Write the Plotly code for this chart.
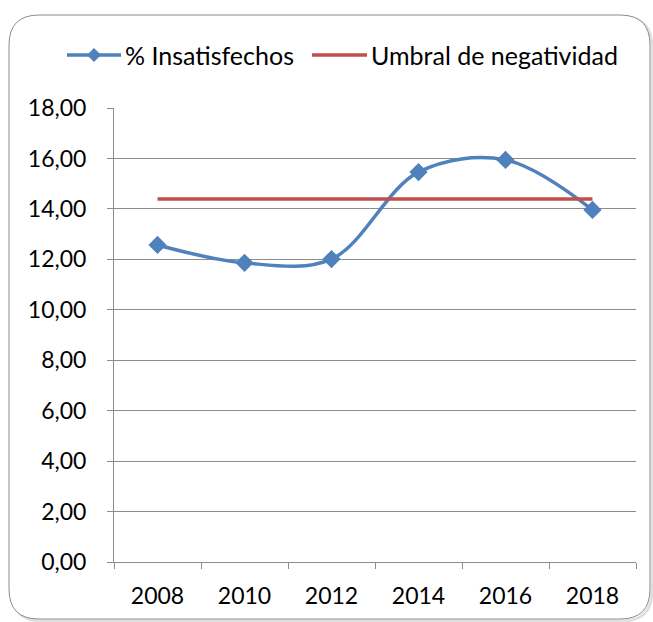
import plotly.graph_objects as go

years = ["2008", "2010", "2012", "2014", "2016", "2018"]
insatisfechos = [12.57, 11.86, 12.01, 15.46, 15.94, 13.96]
umbral = [14.39, 14.39, 14.39, 14.39, 14.39, 14.39]
series_names = ["% Insatisfechos", "Umbral de negatividad"]

W, H = 653, 622
ML, MR, MT, MB = 114, 17, 108, 60
PW, PH = W - ML - MR, H - MT - MB


def px(x, y):
    # pixel -> paper coords
    return (x - ML) / PW, (H - MB - y) / PH


def rounded_rect(x0, y0, x1, y1, r):
    pts = []
    a = px(x0 + r, y0); pts.append(f"M {a[0]:.4f},{a[1]:.4f}")
    a = px(x1 - r, y0); pts.append(f"L {a[0]:.4f},{a[1]:.4f}")
    c = px(x1, y0); e = px(x1, y0 + r); pts.append(f"Q {c[0]:.4f},{c[1]:.4f} {e[0]:.4f},{e[1]:.4f}")
    a = px(x1, y1 - r); pts.append(f"L {a[0]:.4f},{a[1]:.4f}")
    c = px(x1, y1); e = px(x1 - r, y1); pts.append(f"Q {c[0]:.4f},{c[1]:.4f} {e[0]:.4f},{e[1]:.4f}")
    a = px(x0 + r, y1); pts.append(f"L {a[0]:.4f},{a[1]:.4f}")
    c = px(x0, y1); e = px(x0, y1 - r); pts.append(f"Q {c[0]:.4f},{c[1]:.4f} {e[0]:.4f},{e[1]:.4f}")
    a = px(x0, y0 + r); pts.append(f"L {a[0]:.4f},{a[1]:.4f}")
    c = px(x0, y0); e = px(x0 + r, y0); pts.append(f"Q {c[0]:.4f},{c[1]:.4f} {e[0]:.4f},{e[1]:.4f}")
    return " ".join(pts) + " Z"


def diamond(cx, cy, r):
    p = [px(cx, cy - r), px(cx + r, cy), px(cx, cy + r), px(cx - r, cy)]
    return "M " + " L ".join(f"{a:.4f},{b:.4f}" for a, b in p) + " Z"


FONT = "Lato"
FS = 23
BLUE = "#4F81BD"
RED = "#C0504D"
GRID = "#8C8C8C"

fig = go.Figure()
fig.add_trace(go.Scatter(
    x=years, y=insatisfechos, mode="lines+markers", name=series_names[0],
    line=dict(color=BLUE, width=3.5, shape="spline", smoothing=1),
    marker=dict(symbol="diamond", size=14, color=BLUE),
))
fig.add_trace(go.Scatter(
    x=years, y=umbral, mode="lines", name=series_names[1],
    line=dict(color=RED, width=3.5),
))

# shadow + rounded chart border
fig.add_shape(type="path", xref="paper", yref="paper", layer="below",
              path=rounded_rect(12, 17, 652, 621, 30),
              line=dict(color="rgba(0,0,0,0.12)", width=3), fillcolor="rgba(0,0,0,0)")
fig.add_shape(type="path", xref="paper", yref="paper", layer="below",
              path=rounded_rect(9, 15, 650, 619, 30),
              line=dict(color="#8C8C8C", width=1), fillcolor="white")

# Excel-style legend drawn by hand (longer sample lines than plotly's)
LEG_Y = 55
for (x0, x1, tx), color, name, mark in [((67, 121, 123), BLUE, series_names[0], True),
                                         ((312, 367, 369), RED, series_names[1], False)]:
    a, b = px(x0, LEG_Y), px(x1, LEG_Y)
    fig.add_shape(type="line", xref="paper", yref="paper", x0=a[0], y0=a[1], x1=b[0], y1=b[1],
                  line=dict(color=color, width=3.5))
    if mark:
        fig.add_shape(type="path", xref="paper", yref="paper", path=diamond((x0 + x1) / 2, LEG_Y, 7),
                      fillcolor=color, line=dict(color=color, width=0))
    t = px(tx, LEG_Y)
    fig.add_annotation(xref="paper", yref="paper", x=t[0], y=t[1], xanchor="left", yanchor="middle",
                       text=name, showarrow=False, font=dict(family=FONT, size=25, color="black"))

fig.update_xaxes(
    type="category", range=[-0.5, 5.5], showgrid=False, showline=True, linecolor=GRID, linewidth=1,
    ticks="outside", tickson="boundaries", ticklen=6, tickcolor=GRID,
    tickfont=dict(family=FONT, size=FS, color="black"), ticklabelstandoff=13,
)
fig.update_yaxes(
    range=[0, 18], dtick=2, tickformat=".2f", showgrid=True, gridcolor=GRID, gridwidth=1,
    showline=True, linecolor=GRID, linewidth=1, ticks="outside", ticklen=6, tickcolor=GRID,
    tickfont=dict(family=FONT, size=FS, color="black"), zeroline=False, ticklabelstandoff=16,
)
fig.update_layout(
    width=W, height=H, separators=",.", showlegend=False,
    margin=dict(l=ML, r=MR, t=MT, b=MB, autoexpand=False),
    paper_bgcolor="white", plot_bgcolor="rgba(0,0,0,0)",
    font=dict(family=FONT, size=FS, color="black"),
)
fig.write_html("out.html", config={"displayModeBar": False},
               post_script="document.body.style.margin='0';")
